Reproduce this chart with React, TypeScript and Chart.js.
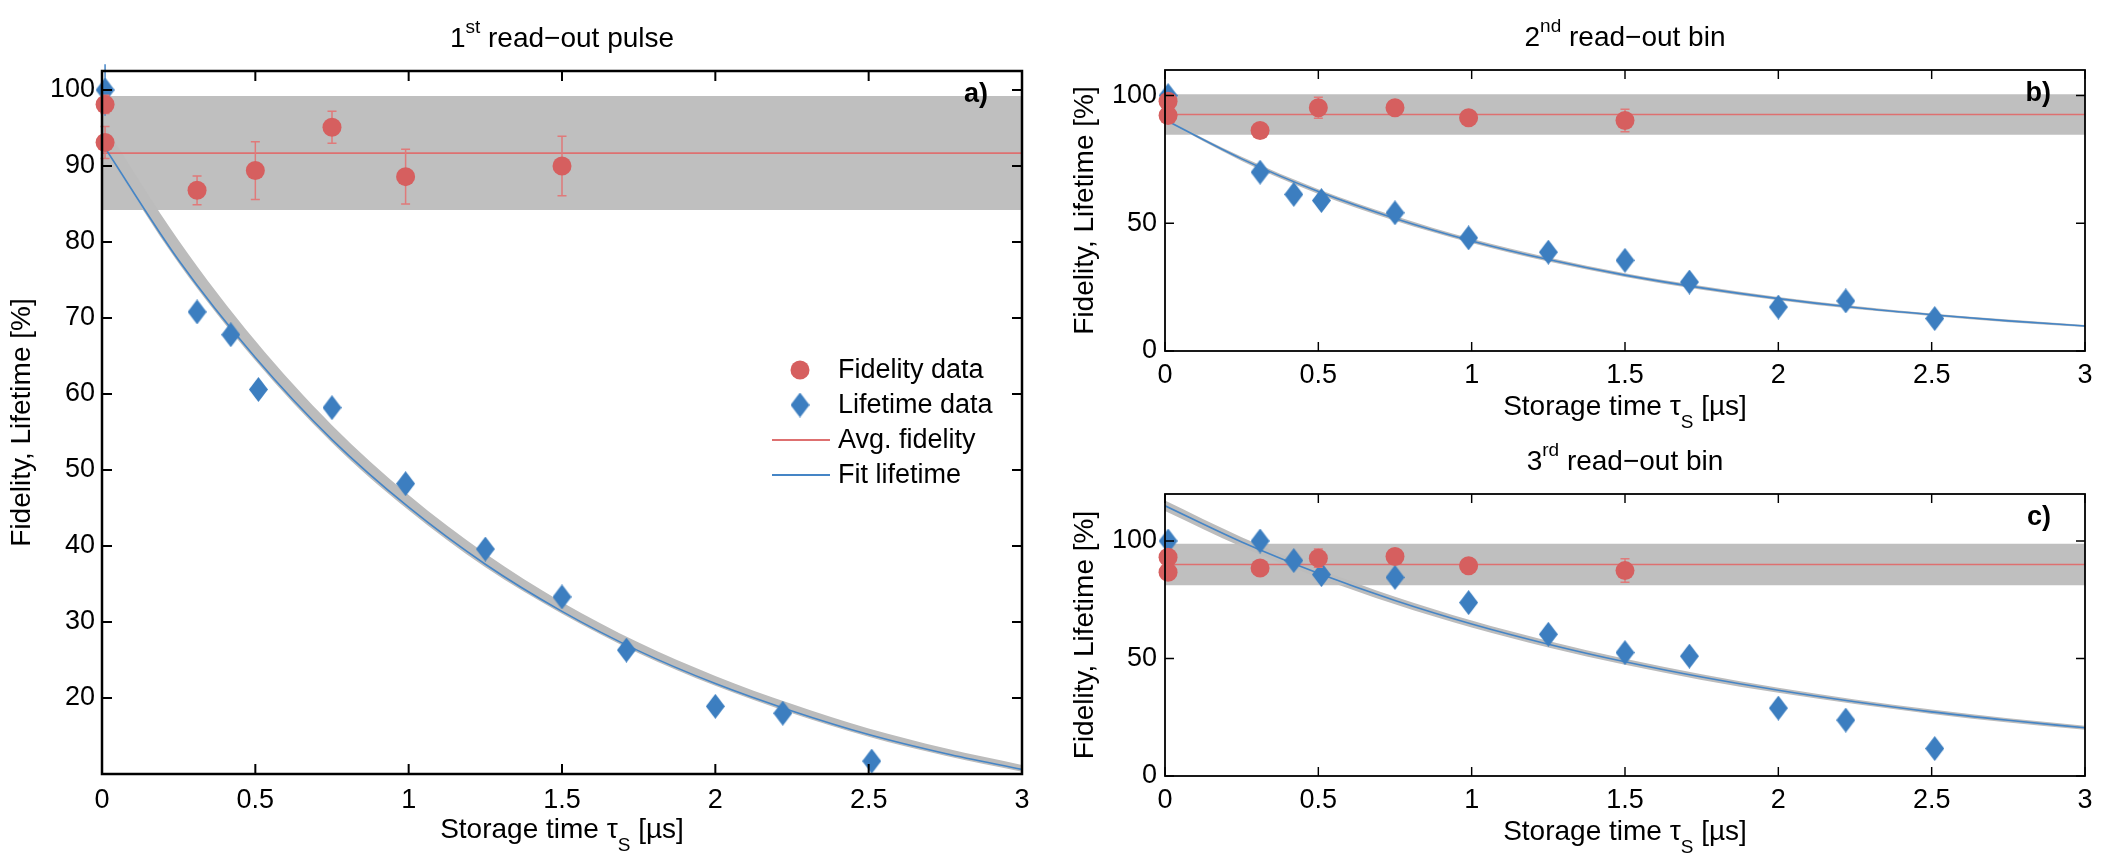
import React, { useEffect, useRef } from "react";
import { Chart, registerables } from "chart.js";

Chart.register(...registerables);

const FONT = "'Liberation Sans', Arial, Helvetica, sans-serif";

// ---- shared axes ----
const xTicks = [0, 0.5, 1, 1.5, 2, 2.5, 3];
const yTicksA = [20, 30, 40, 50, 60, 70, 80, 90, 100];
const yTicksBC = [0, 50, 100];

// storage times in µs
const fidelityTimes = [0.01, 0.01, 0.31, 0.5, 0.75, 0.99, 1.5];
const lifetimeTimes = [0.01, 0.31, 0.42, 0.51, 0.75, 0.99, 1.25, 1.5, 1.71, 2.0, 2.22, 2.51];
const fitTimes = [0, 0.25, 0.5, 0.75, 1, 1.25, 1.5, 1.75, 2, 2.25, 2.5, 2.75, 3];

// ---- a) 1st read-out pulse ----
const fidelityA = [98.1, 93.1, 86.8, 89.4, 95.1, 88.6, 90.0];
const fidelityErrA = [1.2, 2.1, 1.9, 3.8, 2.1, 3.6, 3.9];
const lifetimeA = [100, 70.8, 67.8, 60.6, 58.2, 48.2, 39.6, 33.3, 26.3, 18.9, 18.0, 11.7];
const lifetimeErrA = [3.4, 0, 0, 0, 0, 0, 0, 0, 0, 0, 0, 0];
const fitA = [93.0, 77.6, 64.8, 54.0, 45.1, 37.6, 31.4, 26.2, 21.9, 18.3, 15.2, 12.7, 10.6];
const fitHighA = [95.8, 80.2, 67.0, 55.9, 46.7, 39.0, 32.6, 27.3, 22.9, 19.2, 16.0, 13.4, 11.2];
const fitLowA = [92.6, 77.2, 64.4, 53.6, 44.7, 37.2, 31.1, 25.9, 21.6, 18.0, 14.9, 12.4, 10.3];
const avgFidelityA = 91.7;
const fidelityBandA = [84.2, 99.2];

// ---- b) 2nd read-out bin ----
const fidelityB = [97.8, 92.2, 86.3, 95.2, 95.2, 91.3, 90.2];
const fidelityErrB = [2.0, 2.0, 2.0, 4.1, 2.0, 2.0, 4.4];
const lifetimeB = [100, 70.0, 61.3, 58.9, 54.1, 44.3, 38.7, 35.5, 27.0, 17.2, 19.6, 12.7];
const lifetimeErrB = [0, 0, 0, 0, 0, 0, 0, 0, 0, 0, 0, 0];
const fitB = [90.5, 75.2, 62.4, 51.9, 43.1, 35.8, 29.7, 24.7, 20.5, 17.0, 14.2, 11.8, 9.8];
const fitHighB = [90.8, 76.0, 63.3, 52.8, 43.9, 36.6, 30.4, 25.4, 21.1, 17.6, 14.7, 12.3, 10.2];
const fitLowB = [90.2, 74.4, 61.5, 51.0, 42.3, 35.0, 29.0, 24.0, 19.9, 16.4, 13.7, 11.3, 9.4];
const avgFidelityB = 92.6;
const fidelityBandB = [84.7, 100.5];

// ---- c) 3rd read-out bin ----
const fidelityC = [93.1, 86.7, 88.5, 92.7, 93.4, 89.5, 87.4];
const fidelityErrC = [2.0, 2.0, 2.0, 3.9, 2.0, 2.0, 5.0];
const lifetimeC = [100, 100, 91.7, 85.7, 84.5, 73.8, 60.3, 52.5, 51.0, 28.9, 23.8, 11.7];
const lifetimeErrC = [0, 0, 0, 0, 0, 0, 0, 0, 0, 0, 0, 0];
const fitC = [115.0, 99.6, 86.3, 74.7, 64.7, 56.1, 48.6, 42.1, 36.5, 31.6, 27.3, 23.7, 20.5];
const fitHighC = [117.2, 101.6, 88.1, 76.3, 66.2, 57.5, 49.9, 43.3, 37.6, 32.6, 28.3, 24.6, 21.4];
const fitLowC = [112.8, 97.6, 84.5, 73.1, 63.2, 54.7, 47.3, 40.9, 35.4, 30.6, 26.4, 22.8, 19.7];
const avgFidelityC = 90.0;
const fidelityBandC = [81.2, 98.8];

const legendLabels = ["Fidelity data", "Lifetime data", "Avg. fidelity", "Fit lifetime"];

// ---- styling ----
const RED = "#d65f5f";
const RED_LINE = "#de7070";
const ERR_RED = "#e07a7a";
const BLUE = "#3c7ec0";
const BLUE_LINE = "#4585c6";
const BAND = "#bfbfbf";
const FIT_BAND = "#bcbcbc";

type Panel = {
  key: string;
  title: [string, string, string];
  tag: string;
  yMin: number;
  yMax: number;
  yTicks: number[];
  fidelity: number[];
  fidelityErr: number[];
  lifetime: number[];
  lifetimeErr: number[];
  fit: number[];
  fitHigh: number[];
  fitLow: number[];
  avg: number;
  band: number[];
  legend: boolean;
  frame: number;
  tickLen: number;
  xPad: number;
  yPad: number;
  box: { left: number; top: number; width: number; height: number };
  area: { left: number; right: number; top: number; bottom: number };
};

const panels: Panel[] = [
  {
    key: "a",
    title: ["1", "st", " read\u2212out pulse"],
    tag: "a)",
    yMin: 10,
    yMax: 102.5,
    yTicks: yTicksA,
    fidelity: fidelityA,
    fidelityErr: fidelityErrA,
    lifetime: lifetimeA,
    lifetimeErr: lifetimeErrA,
    fit: fitA,
    fitHigh: fitHighA,
    fitLow: fitLowA,
    avg: avgFidelityA,
    band: fidelityBandA,
    legend: true,
    frame: 2.5,
    tickLen: 10,
    xPad: 10,
    yPad: 7,
    box: { left: 0, top: 0, width: 1040, height: 863 },
    area: { left: 102, right: 1022, top: 71, bottom: 774 },
  },
  {
    key: "b",
    title: ["2", "nd", " read\u2212out bin"],
    tag: "b)",
    yMin: 0,
    yMax: 110,
    yTicks: yTicksBC,
    fidelity: fidelityB,
    fidelityErr: fidelityErrB,
    lifetime: lifetimeB,
    lifetimeErr: lifetimeErrB,
    fit: fitB,
    fitHigh: fitHighB,
    fitLow: fitLowB,
    avg: avgFidelityB,
    band: fidelityBandB,
    legend: false,
    frame: 1.8,
    tickLen: 9,
    xPad: 8,
    yPad: 8,
    box: { left: 1040, top: 0, width: 1063, height: 440 },
    area: { left: 125, right: 1045, top: 70, bottom: 351 },
  },
  {
    key: "c",
    title: ["3", "rd", " read\u2212out bin"],
    tag: "c)",
    yMin: 0,
    yMax: 120,
    yTicks: yTicksBC,
    fidelity: fidelityC,
    fidelityErr: fidelityErrC,
    lifetime: lifetimeC,
    lifetimeErr: lifetimeErrC,
    fit: fitC,
    fitHigh: fitHighC,
    fitLow: fitLowC,
    avg: avgFidelityC,
    band: fidelityBandC,
    legend: false,
    frame: 1.8,
    tickLen: 9,
    xPad: 8,
    yPad: 8,
    box: { left: 1040, top: 440, width: 1063, height: 423 },
    area: { left: 125, right: 1045, top: 54, bottom: 336 },
  },
];

function makeDiamond(): HTMLCanvasElement {
  const c = document.createElement("canvas");
  c.width = 19;
  c.height = 25;
  const g = c.getContext("2d")!;
  g.fillStyle = BLUE;
  g.beginPath();
  g.moveTo(9.5, 0);
  g.lineTo(19, 12.5);
  g.lineTo(9.5, 25);
  g.lineTo(0, 12.5);
  g.closePath();
  g.fill();
  return c;
}

type Run = { text: string; size: number; dy: number };

function drawRuns(ctx: CanvasRenderingContext2D, runs: Run[], cx: number, baseline: number) {
  ctx.textAlign = "left";
  ctx.textBaseline = "alphabetic";
  let total = 0;
  for (const r of runs) {
    ctx.font = `${r.size}px ${FONT}`;
    total += ctx.measureText(r.text).width;
  }
  let x = cx - total / 2;
  for (const r of runs) {
    ctx.font = `${r.size}px ${FONT}`;
    ctx.fillText(r.text, x, baseline + r.dy);
    x += ctx.measureText(r.text).width;
  }
}

function drawErrorBars(
  ctx: CanvasRenderingContext2D,
  xs: any,
  ys: any,
  times: number[],
  values: number[],
  errs: number[],
  color: string,
  caps: boolean
) {
  ctx.save();
  ctx.strokeStyle = color;
  ctx.lineWidth = 1.5;
  values.forEach((v, i) => {
    const e = errs[i];
    if (!e) return;
    const x = xs.getPixelForValue(times[i]);
    const y1 = ys.getPixelForValue(v + e);
    const y2 = ys.getPixelForValue(v - e);
    ctx.beginPath();
    ctx.moveTo(x, y1);
    ctx.lineTo(x, y2);
    if (caps) {
      ctx.moveTo(x - 4.5, y1);
      ctx.lineTo(x + 4.5, y1);
      ctx.moveTo(x - 4.5, y2);
      ctx.lineTo(x + 4.5, y2);
    }
    ctx.stroke();
  });
  ctx.restore();
}

function buildConfig(p: Panel, diamond: HTMLCanvasElement): any {
  const pts = (xs: number[], ys: number[]) => ys.map((y, i) => ({ x: xs[i], y }));
  const flat = (y: number) => [
    { x: 0, y },
    { x: 3, y },
  ];

  const decorations = {
    id: "decorations",
    beforeDatasetDraw(chart: any, args: any) {
      // lifetime error bars sit underneath the diamonds
      if (args.index !== 1) return;
      drawErrorBars(chart.ctx, chart.scales.x, chart.scales.y, lifetimeTimes, p.lifetime, p.lifetimeErr, BLUE_LINE, false);
    },
    afterDatasetDraw(chart: any, args: any) {
      // fidelity error bars go between the diamonds and the circles
      if (args.index !== 1) return;
      drawErrorBars(chart.ctx, chart.scales.x, chart.scales.y, fidelityTimes, p.fidelity, p.fidelityErr, ERR_RED, true);
    },
    afterDatasetsDraw(chart: any) {
      const ctx: CanvasRenderingContext2D = chart.ctx;
      const a = chart.chartArea;
      const xs = chart.scales.x;
      const ys = chart.scales.y;
      ctx.save();
      ctx.strokeStyle = "#000";
      ctx.lineWidth = p.frame;
      ctx.strokeRect(a.left, a.top, a.right - a.left, a.bottom - a.top);
      ctx.lineWidth = p.frame * 0.8;
      ctx.beginPath();
      for (const t of xTicks) {
        const x = xs.getPixelForValue(t);
        ctx.moveTo(x, a.bottom);
        ctx.lineTo(x, a.bottom - p.tickLen);
        ctx.moveTo(x, a.top);
        ctx.lineTo(x, a.top + p.tickLen);
      }
      for (const t of p.yTicks) {
        const y = ys.getPixelForValue(t);
        ctx.moveTo(a.left, y);
        ctx.lineTo(a.left + p.tickLen, y);
        ctx.moveTo(a.right, y);
        ctx.lineTo(a.right - p.tickLen, y);
      }
      ctx.stroke();
      ctx.restore();
    },
    afterDraw(chart: any) {
      const ctx: CanvasRenderingContext2D = chart.ctx;
      const a = chart.chartArea;
      const cx = (a.left + a.right) / 2;
      const cy = (a.top + a.bottom) / 2;
      ctx.save();
      ctx.fillStyle = "#000";

      // panel title with ordinal superscript
      drawRuns(
        ctx,
        [
          { text: p.title[0], size: 28, dy: 0 },
          { text: p.title[1], size: 19, dy: -14 },
          { text: p.title[2], size: 28, dy: 0 },
        ],
        cx,
        a.top - 24
      );

      // x axis title
      drawRuns(
        ctx,
        [
          { text: "Storage time \u03c4", size: 28, dy: 0 },
          { text: "S", size: 19, dy: 13 },
          { text: " [\u00b5s]", size: 28, dy: 0 },
        ],
        cx,
        a.bottom + 64
      );

      // y axis title
      ctx.save();
      ctx.translate(a.left - 80, cy);
      ctx.rotate(-Math.PI / 2);
      ctx.font = `28px ${FONT}`;
      ctx.textAlign = "center";
      ctx.textBaseline = "middle";
      ctx.fillText("Fidelity, Lifetime [%]", 0, 0);
      ctx.restore();

      // panel tag
      ctx.font = `bold 27px ${FONT}`;
      ctx.textAlign = "right";
      ctx.textBaseline = "middle";
      ctx.fillText(p.tag, a.right - 34, a.top + 24);

      if (p.legend) {
        const mx = a.right - 222;
        const tx = a.right - 184;
        const y0 = a.top + 299;
        const dy = 35;
        ctx.fillStyle = RED;
        ctx.beginPath();
        ctx.arc(mx, y0, 9.5, 0, Math.PI * 2);
        ctx.fill();
        ctx.drawImage(diamond, mx - diamond.width / 2, y0 + dy - diamond.height / 2);
        ctx.lineWidth = 1.8;
        ctx.strokeStyle = RED_LINE;
        ctx.beginPath();
        ctx.moveTo(a.right - 250, y0 + 2 * dy);
        ctx.lineTo(a.right - 192, y0 + 2 * dy);
        ctx.stroke();
        ctx.strokeStyle = BLUE_LINE;
        ctx.beginPath();
        ctx.moveTo(a.right - 250, y0 + 3 * dy);
        ctx.lineTo(a.right - 192, y0 + 3 * dy);
        ctx.stroke();
        ctx.fillStyle = "#000";
        ctx.font = `27px ${FONT}`;
        ctx.textAlign = "left";
        ctx.textBaseline = "middle";
        legendLabels.forEach((s, i) => ctx.fillText(s, tx, y0 + i * dy + 1));
      }
      ctx.restore();
    },
  };

  const tickFont = { family: FONT, size: 27 };

  return {
    type: "line",
    data: {
      datasets: [
        {
          label: legendLabels[0],
          data: pts(fidelityTimes, p.fidelity),
          showLine: false,
          pointStyle: "circle",
          pointRadius: 9.5,
          pointHoverRadius: 9.5,
          pointBackgroundColor: RED,
          pointBorderWidth: 0,
          clip: false,
          order: 0,
        },
        {
          label: legendLabels[1],
          data: pts(lifetimeTimes, p.lifetime),
          showLine: false,
          pointStyle: diamond,
          pointRadius: 12,
          pointHoverRadius: 12,
          pointBorderWidth: 0,
          clip: false,
          order: 1,
        },
        {
          label: legendLabels[3],
          data: pts(fitTimes, p.fit),
          borderColor: BLUE_LINE,
          borderWidth: 1.6,
          pointRadius: 0,
          cubicInterpolationMode: "monotone",
          fill: false,
          order: 2,
        },
        {
          label: legendLabels[2],
          data: flat(p.avg),
          borderColor: RED_LINE,
          borderWidth: 1.6,
          pointRadius: 0,
          fill: false,
          order: 3,
        },
        {
          label: "fit upper",
          data: pts(fitTimes, p.fitHigh),
          borderWidth: 0,
          borderColor: "rgba(0,0,0,0)",
          backgroundColor: FIT_BAND,
          pointRadius: 0,
          cubicInterpolationMode: "monotone",
          fill: "+1",
          order: 4,
        },
        {
          label: "fit lower",
          data: pts(fitTimes, p.fitLow),
          borderWidth: 0,
          borderColor: "rgba(0,0,0,0)",
          pointRadius: 0,
          cubicInterpolationMode: "monotone",
          fill: false,
          order: 5,
        },
        {
          label: "fidelity band",
          data: flat(p.band[1]),
          borderWidth: 0,
          borderColor: "rgba(0,0,0,0)",
          backgroundColor: BAND,
          pointRadius: 0,
          fill: { value: p.band[0] },
          order: 6,
        },
      ],
    },
    options: {
      animation: false,
      responsive: false,
      devicePixelRatio: 1,
      events: [],
      layout: {
        padding: {
          left: 0,
          right: p.box.width - p.area.right,
          top: p.area.top,
          bottom: 0,
        },
      },
      plugins: {
        legend: { display: false },
        tooltip: { enabled: false },
        title: { display: false },
      },
      scales: {
        x: {
          type: "linear",
          min: 0,
          max: 3,
          afterBuildTicks: (s: any) => {
            s.ticks = xTicks.map((v) => ({ value: v }));
          },
          afterFit: (s: any) => {
            s.height = p.box.height - p.area.bottom;
          },
          grid: { display: false, drawTicks: false, tickLength: 0 },
          border: { display: false },
          ticks: {
            autoSkip: false,
            maxRotation: 0,
            padding: p.xPad,
            color: "#000",
            font: tickFont,
            callback: (v: number) => String(v),
          },
        },
        y: {
          type: "linear",
          min: p.yMin,
          max: p.yMax,
          afterBuildTicks: (s: any) => {
            s.ticks = p.yTicks.map((v) => ({ value: v }));
          },
          afterFit: (s: any) => {
            s.width = p.area.left;
          },
          grid: { display: false, drawTicks: false, tickLength: 0 },
          border: { display: false },
          ticks: {
            autoSkip: false,
            padding: p.yPad,
            color: "#000",
            font: tickFont,
            callback: (v: number) => String(v),
          },
        },
      },
    },
    plugins: [decorations],
  };
}

function PanelChart({ panel }: { panel: Panel }) {
  const ref = useRef<HTMLCanvasElement>(null);
  useEffect(() => {
    if (!ref.current) return;
    const chart = new Chart(ref.current, buildConfig(panel, makeDiamond()));
    return () => chart.destroy();
  }, [panel]);
  const b = panel.box;
  return (
    <canvas
      ref={ref}
      width={b.width}
      height={b.height}
      style={{ position: "absolute", left: b.left, top: b.top, width: b.width, height: b.height }}
    />
  );
}

export default function App() {
  return (
    <div
      style={{
        position: "fixed",
        left: 0,
        top: 0,
        width: 2103,
        height: 863,
        background: "#fff",
        overflow: "hidden",
      }}
    >
      {panels.map((p) => (
        <PanelChart key={p.key} panel={p} />
      ))}
    </div>
  );
}
